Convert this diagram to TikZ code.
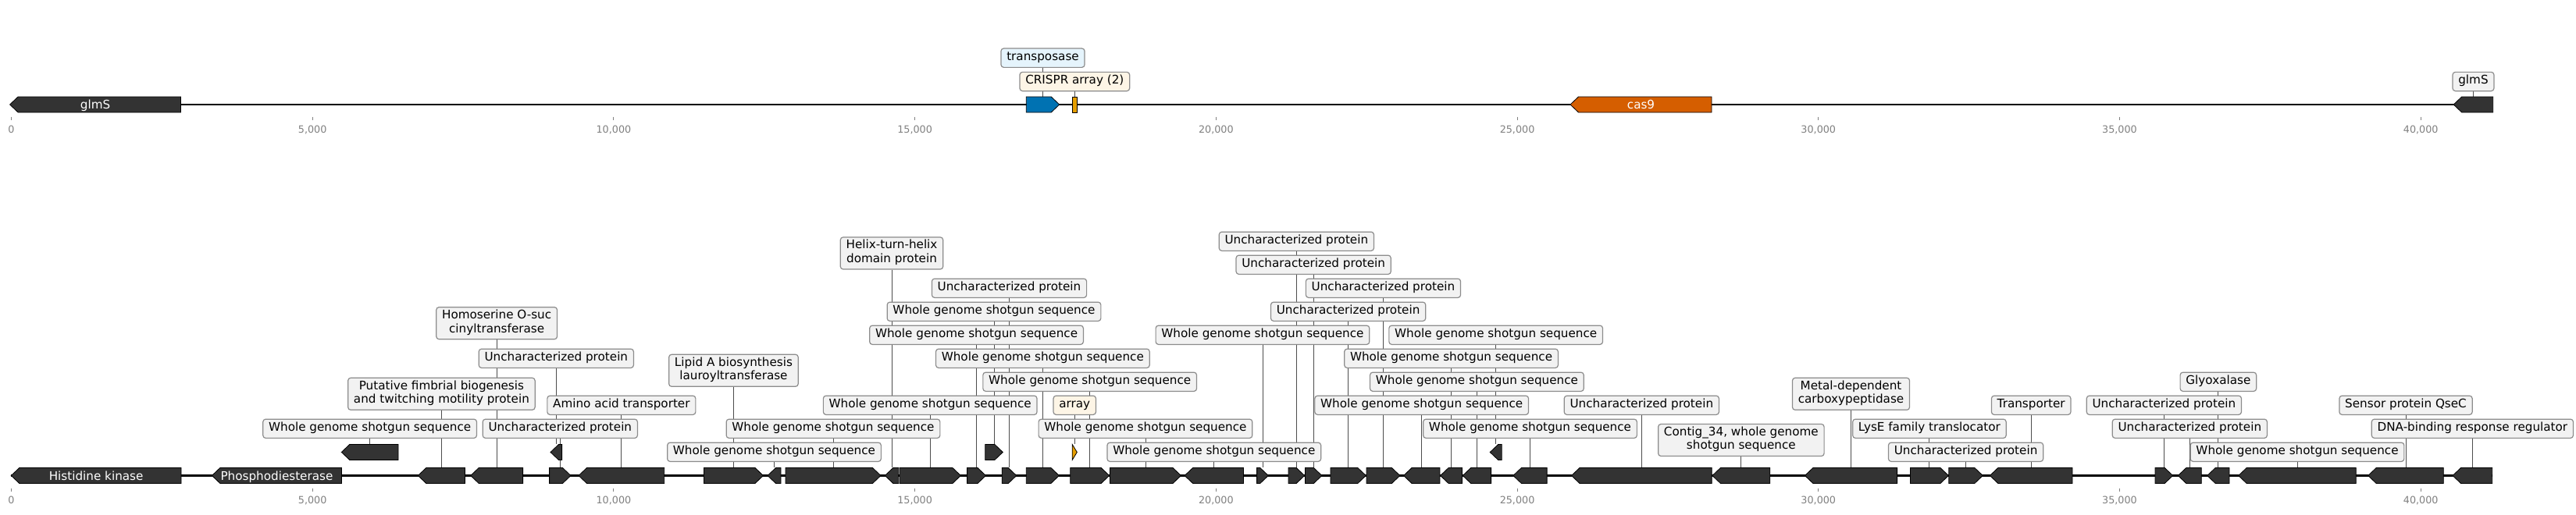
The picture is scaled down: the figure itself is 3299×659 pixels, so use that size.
\documentclass[tikz,border=0pt]{standalone}
\usepackage{fontspec}
\setmainfont{DejaVu Sans}
\usetikzlibrary{calc}
\usetikzlibrary{positioning}

\definecolor{genegray}{HTML}{333333}
\definecolor{boxfill}{HTML}{F2F2F2}
\definecolor{boxedge}{HTML}{8C8C8C}
\definecolor{leadgray}{HTML}{4D4D4D}
\definecolor{tickgray}{HTML}{808080}
\definecolor{tnpblue}{HTML}{0072B2}
\definecolor{tnpfill}{HTML}{E5F4FC}
\definecolor{crisprorange}{HTML}{E69F00}
\definecolor{crisprfill}{HTML}{FDF5E6}
\definecolor{casorange}{HTML}{D55E00}

\pgfdeclarelayer{background}
\pgfsetlayers{background,main}

\newcommand{\lblfont}{\fontsize{15.2}{17.4}\selectfont}
\newcommand{\tickfont}{\fontsize{12.75}{15}\selectfont}
\newcommand{\wgs}{Whole genome shotgun sequence}
\newcommand{\unch}{Uncharacterized protein}

\tikzset{
	genebody/.style={draw=black, line width=0.8pt, fill=genegray, line join=miter},
	genespan/.style={rectangle, inner sep=0pt, minimum height=20pt},
	featlabel/.style={
		rectangle,
		rounded corners=3.5pt,
		draw=boxedge, line width=1.2pt,
		fill=boxfill,
		font=\lblfont,
		inner xsep=7.3pt, inner ysep=3.45pt,
		align=center,
		execute at begin node=\strut},
	inlabel/.style={text=white, font=\lblfont, inner sep=0pt, text height=11.1pt, text depth=0pt},
	leader/.style={draw=leadgray, line width=0.9pt},
	trackline/.style={draw=black, line width=2.3pt},
	tickmark/.style={draw=tickgray, line width=0.9pt},
	ticklabel/.style={text=tickgray, font=\tickfont, inner sep=0pt, text height=9.3pt, text depth=0pt},
}

% gene arrows: name, start, end, y, extra style
\newcommand{\fwdgene}[5]{%
	\pgfmathsetmacro{\headlen}{min(10.5,#3-#2)}
	\draw[genebody,#5] (#2,#4-10) -- (#3-\headlen,#4-10) -- (#3,#4) -- (#3-\headlen,#4+10) -- (#2,#4+10) -- cycle;
	\node[genespan, minimum width={(#3-#2)*1pt}] (#1) at ({(#2+#3)/2},#4) {};}
\newcommand{\revgene}[5]{%
	\pgfmathsetmacro{\headlen}{min(10.5,#3-#2)}
	\draw[genebody,#5] (#3,#4-10) -- (#2+\headlen,#4-10) -- (#2,#4) -- (#2+\headlen,#4+10) -- (#3,#4+10) -- cycle;
	\node[genespan, minimum width={(#3-#2)*1pt}] (#1) at ({(#2+#3)/2},#4) {};}
\newcommand{\boxgene}[5]{%
	\draw[genebody,#5] (#2,#4-10) rectangle (#3,#4+10);
	\node[genespan, minimum width={(#3-#2)*1pt}] (#1) at ({(#2+#3)/2},#4) {};}

\begin{document}
\begin{tikzpicture}[x=1pt, y=-1pt]
	\useasboundingbox (0,0) rectangle (3299,659);

	\begin{pgfonlayer}{background}
		\draw[trackline] (14,134) -- (3192,134);
		\draw[trackline] (14.3,609.5) -- (3191.7,609.5);
	\end{pgfonlayer}

	% axes
	\foreach \k/\t in {0/0,1/{5,000},2/{10,000},3/{15,000},4/{20,000},5/{25,000},6/{30,000},7/{35,000},8/{40,000}} {
		\draw[tickmark] ({14.5+385.71*\k},149.5) -- ++(0,4);
		\node[ticklabel] (ta\k) at ({14.5+385.71*\k},165.8) {\t};
		\draw[tickmark] ({14.5+385.71*\k},625.5) -- ++(0,4);
		\node[ticklabel] (tb\k) at ({14.5+385.71*\k},641.3) {\t};
	}

	% top track
	\revgene{t01}{12.6}{231.5}{134}{}
	\fwdgene{t02}{1314.3}{1356.7}{134}{fill=tnpblue}
	\boxgene{t03}{1373.3}{1379.3}{134}{fill=crisprorange}
	\revgene{t04}{2011}{2192}{134}{fill=casorange}
	\revgene{t05}{3142.2}{3192.7}{134}{}
	\node[inlabel] (nt01) at (t01) {glmS};
	\node[inlabel] (nt04) at (t04) {cas9};
	\node[featlabel, fill=tnpfill] (lt02) at (t02 |- 0,74.2) {transposase};
	\node[featlabel, fill=crisprfill] (lt03) at (t03 |- 0,104.5) {CRISPR array (2)};
	\node[featlabel] (lt05) at (t05 |- 0,104.5) {glmS};

	% bottom track
	\revgene{g01}{14.3}{232}{609.5}{}
	\revgene{g02}{271.4}{437.5}{609.5}{}
	\revgene{g03}{535.3}{595.5}{609.5}{}
	\revgene{g04}{602.7}{669.6}{609.5}{}
	\fwdgene{g05}{703.6}{731}{609.5}{}
	\revgene{g06}{741}{850.7}{609.5}{}
	\fwdgene{g07}{901.4}{977.5}{609.5}{}
	\revgene{g08}{983}{1000}{609.5}{}
	\fwdgene{g09}{1006}{1128}{609.5}{}
	\revgene{g10}{1133.3}{1150.7}{609.5}{}
	\fwdgene{g11}{1152}{1230.4}{609.5}{}
	\fwdgene{g12}{1238.6}{1262.5}{609.5}{}
	\fwdgene{g13}{1283.2}{1301.8}{609.5}{}
	\fwdgene{g14}{1314.3}{1356.4}{609.5}{}
	\fwdgene{g15}{1370.7}{1420.7}{609.5}{}
	\fwdgene{g16}{1421.4}{1512.5}{609.5}{}
	\revgene{g17}{1517.1}{1592.5}{609.5}{}
	\fwdgene{g18}{1609.6}{1624.3}{609.5}{}
	\fwdgene{g19}{1650}{1670.7}{609.5}{}
	\fwdgene{g20}{1671.4}{1692.9}{609.5}{}
	\fwdgene{g21}{1703.9}{1749.3}{609.5}{}
	\fwdgene{g22}{1750}{1792.9}{609.5}{}
	\revgene{g23}{1797.5}{1843.9}{609.5}{}
	\revgene{g24}{1844.6}{1872.5}{609.5}{}
	\revgene{g25}{1873.2}{1909.6}{609.5}{}
	\revgene{g26}{1937.9}{1981.1}{609.5}{}
	\revgene{g27}{2012.5}{2192.1}{609.5}{}
	\revgene{g28}{2192.9}{2266.8}{609.5}{}
	\revgene{g29}{2311.4}{2429.6}{609.5}{}
	\fwdgene{g30}{2446.4}{2495.4}{609.5}{}
	\fwdgene{g31}{2495.8}{2539.3}{609.5}{}
	\revgene{g32}{2548.3}{2654}{609.5}{}
	\fwdgene{g33}{2760}{2782.7}{609.5}{}
	\revgene{g34}{2789.3}{2819.3}{609.5}{}
	\revgene{g35}{2826.7}{2855}{609.5}{}
	\revgene{g36}{2866.7}{3017.3}{609.5}{}
	\revgene{g37}{3032.7}{3129.3}{609.5}{}
	\revgene{g38}{3141}{3191.7}{609.5}{}
	% raised row
	\revgene{r01}{437.3}{510}{579.5}{}
	\revgene{r02}{705}{719.6}{579.5}{}
	\fwdgene{r03}{1261.7}{1284.3}{579.5}{}
	\fwdgene{r04}{1373.2}{1379.3}{579.5}{fill=crisprorange}
	\revgene{r05}{1908.2}{1923.2}{579.5}{}

	\node[inlabel] (ng01) at (g01) {Histidine kinase};
	\node[inlabel] (ng02) at (g02) {Phosphodiesterase};

	\node[featlabel] (lg03) at (g03 |- 0,504.8) {Putative fimbrial biogenesis\\and twitching motility protein\strut};
	\node[featlabel] (lg04) at (g04 |- 0,414.2) {Homoserine O-suc\\cinyltransferase\strut};
	\node[featlabel] (lg05) at (g05 |- 0,549.3) {\unch};
	\node[featlabel] (lg06) at (g06 |- 0,519.3) {Amino acid transporter};
	\node[featlabel] (lg07) at (g07 |- 0,474.8) {Lipid A biosynthesis\\lauroyltransferase\strut};
	\node[featlabel] (lg08) at (g08 |- 0,579.3) {\wgs};
	\node[featlabel] (lg09) at (g09 |- 0,549.3) {\wgs};
	\node[featlabel] (lg10) at (g10 |- 0,324.5) {Helix-turn-helix\\domain protein\strut};
	\node[featlabel] (lg11) at (g11 |- 0,519.3) {\wgs};
	\node[featlabel] (lg12) at (g12 |- 0,429.3) {\wgs};
	\node[featlabel] (lg13) at (g13 |- 0,369.3) {\unch};
	\node[featlabel] (lg14) at (g14 |- 0,459.3) {\wgs};
	\node[featlabel] (lg15) at (g15 |- 0,489.3) {\wgs};
	\node[featlabel] (lg16) at (g16 |- 0,549.3) {\wgs};
	\node[featlabel] (lg17) at (g17 |- 0,579.3) {\wgs};
	\node[featlabel] (lg18) at (g18 |- 0,429.3) {\wgs};
	\node[featlabel] (lg19) at (g19 |- 0,309.3) {\unch};
	\node[featlabel] (lg20) at (g20 |- 0,339.3) {\unch};
	\node[featlabel] (lg21) at (g21 |- 0,399.3) {\unch};
	\node[featlabel] (lg22) at (g22 |- 0,369.3) {\unch};
	\node[featlabel] (lg23) at (g23 |- 0,519.3) {\wgs};
	\node[featlabel] (lg24) at (g24 |- 0,459.3) {\wgs};
	\node[featlabel] (lg25) at (g25 |- 0,489.3) {\wgs};
	\node[featlabel] (lg26) at (g26 |- 0,549.3) {\wgs};
	\node[featlabel] (lg27) at (g27 |- 0,519.3) {\unch};
	\node[featlabel] (lg28) at (g28 |- 0,564) {Contig\_34, whole genome\\shotgun sequence\strut};
	\node[featlabel] (lg29) at (g29 |- 0,504.8) {Metal-dependent\\carboxypeptidase\strut};
	\node[featlabel] (lg30) at (g30 |- 0,549.3) {LysE family translocator};
	\node[featlabel] (lg31) at (g31 |- 0,579.3) {\unch};
	\node[featlabel] (lg32) at (g32 |- 0,519.3) {Transporter};
	\node[featlabel] (lg33) at (g33 |- 0,519.3) {\unch};
	\node[featlabel] (lg34) at (g34 |- 0,549.3) {\unch};
	\node[featlabel] (lg35) at (g35 |- 0,489.3) {Glyoxalase};
	\node[featlabel] (lg36) at (g36 |- 0,579.3) {\wgs};
	\node[featlabel] (lg37) at (g37 |- 0,519.3) {Sensor protein QseC};
	\node[featlabel] (lg38) at (g38 |- 0,549.3) {DNA-binding response regulator};
	\node[featlabel] (lr01) at (r01 |- 0,549.3) {\wgs};
	\node[featlabel] (lr02) at (r02 |- 0,459.3) {\unch};
	\node[featlabel] (lr03) at (r03 |- 0,399.3) {\wgs};
	\node[featlabel, fill=crisprfill] (lr04) at (r04 |- 0,519.3) {array};
	\node[featlabel] (lr05) at (r05 |- 0,429.3) {\wgs};

	% leader lines
	\begin{pgfonlayer}{background}
		\foreach \g in {t02,t03,t05,g03,g04,g05,g06,g07,g08,g09,g10,g11,g12,g13,g14,g15,g16,g17,g18,g19,g20,g21,g22,g23,g24,g25,g26,g27,g28,g29,g30,g31,g32,g33,g34,g35,g36,g37,g38,r01,r02,r03,r04,r05}
			\draw[leader] (l\g) -- (\g.north);
	\end{pgfonlayer}
\end{tikzpicture}
\end{document}
